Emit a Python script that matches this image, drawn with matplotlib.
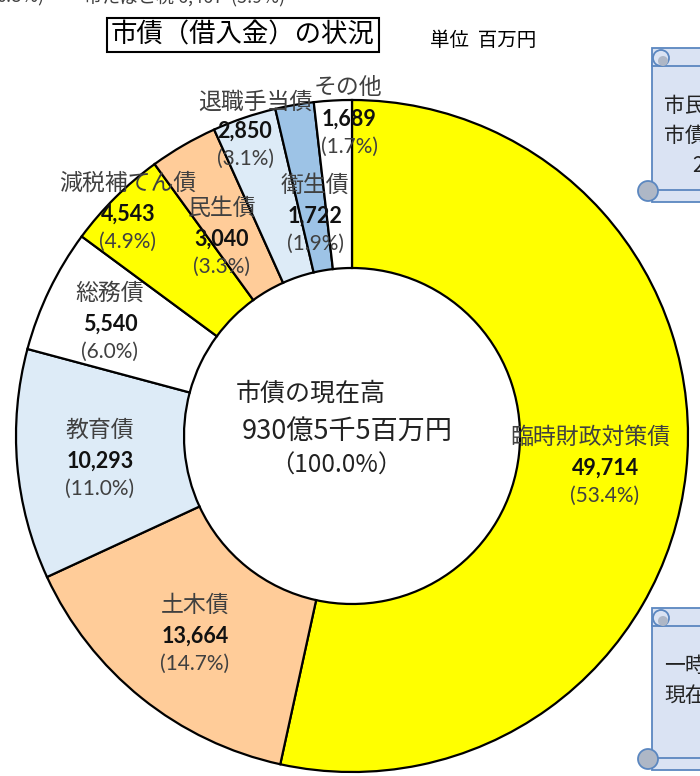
import matplotlib.pyplot as plt
from matplotlib.patches import FancyBboxPatch, Circle, Rectangle

plt.rcParams['font.family'] = ['Noto Sans CJK JP', 'DejaVu Sans']

# 市債の内訳 (百万円), 12時の位置から時計回り
names = ['臨時財政対策債', '土木債', '教育債', '総務債', '減税補てん債',
         '民生債', '退職手当債', '衛生債', 'その他']
values = [49714, 13664, 10293, 5540, 4543, 3040, 2850, 1722, 1689]
pcts = ['53.4%', '14.7%', '11.0%', '6.0%', '4.9%', '3.3%', '3.1%', '1.9%', '1.7%']
colors = ['#FFFF00', '#FFCC99', '#DDEBF7', '#FFFFFF', '#FFFF00',
          '#FFCC99', '#DDEBF7', '#9DC3E6', '#FFFFFF']

# label anchor (pixel) for each slice: name, value, percent lines
label_pos = [(590, 437), (195, 605), (100, 430), (110, 293), (128, 183),
             (222, 208), (255, 102), (315, 185), (348, 88)]
total = sum(values)

fig = plt.figure(figsize=(7.0, 7.76), dpi=100)
ax = fig.add_axes([0, 0, 1, 1])

cx, cy, R = 352, 436, 336
ax.pie(values, colors=colors, startangle=-90, counterclock=True,
       center=(cx, cy), radius=R,
       wedgeprops=dict(width=R * 0.5, edgecolor='black', linewidth=1.6))
ax.set_xlim(0, 700)
ax.set_ylim(776, 0)
ax.set_aspect('equal')
ax.axis('off')

txt = '#404040'
num_font = ['Lato', 'Noto Sans CJK JP']
offsets = [(15, 0), (0, 0), (0, 0), (0, 0), (0, 0), (0, 0), (-10, -2), (0, 0), (1, 0)]
for name, v, p, (x, y), (dx, dy) in zip(names, values, pcts, label_pos, offsets):
    ax.text(x, y, name, ha='center', va='center', fontsize=16.5, color=txt)
    ax.text(x + dx, y + 31 + dy, f'{v:,}',
            ha='center', va='center', fontsize=15.5, fontweight='bold',
            color='#111111', family=num_font)
    ax.text(x + dx, y + 59 + dy, f'({p})',
            ha='center', va='center', fontsize=15, color=txt, family=num_font)

# center text
ax.text(311, 394, '市債の現在高', ha='center', va='center', fontsize=18, color='#222222')
ax.text(347, 432, '930億5千5百万円', ha='center', va='center', fontsize=19.5, color='#222222')
ax.text(336, 466, f'（{100 * total / total:.1f}%）', ha='center', va='center',
        fontsize=17.5, color='#222222')

# title
ax.text(243, 35, '市債（借入金）の状況', ha='center', va='center', fontsize=19,
        color='black',
        bbox=dict(boxstyle='square,pad=0.15', facecolor='white', edgecolor='black', linewidth=1.5))
ax.text(483, 41, '単位  百万円', ha='center', va='center', fontsize=14, color='black')

# clipped text from the page above
ax.text(20, 6, '0.8%)', ha='center', va='bottom', fontsize=13, color=txt)
ax.text(185, 6, '市たばこ税 6,467  (5.9%)', ha='center', va='bottom', fontsize=13, color=txt)

# scroll shapes on the right (cut off by the page edge)
for top, bottom, lines in [(48, 202, ['市民一人当たり', '市債現在高', '2']),
                           (608, 770, ['一時借入金', '現在高'])]:
    body = FancyBboxPatch((652, top + 10), 80, bottom - top - 20,
                          boxstyle='round,pad=0,rounding_size=6',
                          facecolor='#DAE3F3', edgecolor='#5B87C0', linewidth=1.3, zorder=3)
    ax.add_patch(body)
    ax.add_patch(Rectangle((652, top), 80, 18, facecolor='#DAE3F3',
                           edgecolor='#5B87C0', linewidth=1.3, zorder=3))
    ax.add_patch(Circle((661, top + 10), 8, facecolor='#DAE3F3',
                        edgecolor='#5B87C0', linewidth=1.3, zorder=4))
    ax.add_patch(Circle((663, top + 13), 5, facecolor='#AEB7C6',
                        edgecolor='none', zorder=4))
    ax.add_patch(Rectangle((652, bottom - 12), 80, 12, facecolor='#DAE3F3',
                           edgecolor='#5B87C0', linewidth=1.3, zorder=3))
    ax.add_patch(Circle((648, bottom - 11), 10, facecolor='#AEB7C6',
                        edgecolor='#5B87C0', linewidth=1.3, zorder=4))
    y0 = top + 58
    for i, line in enumerate(lines):
        x0 = 692 if line == '2' else 664
        ax.text(x0, y0 + i * 30, line, ha='left', va='center', fontsize=15,
                color='#222222', zorder=5)

fig.savefig('out.png', dpi=100)
